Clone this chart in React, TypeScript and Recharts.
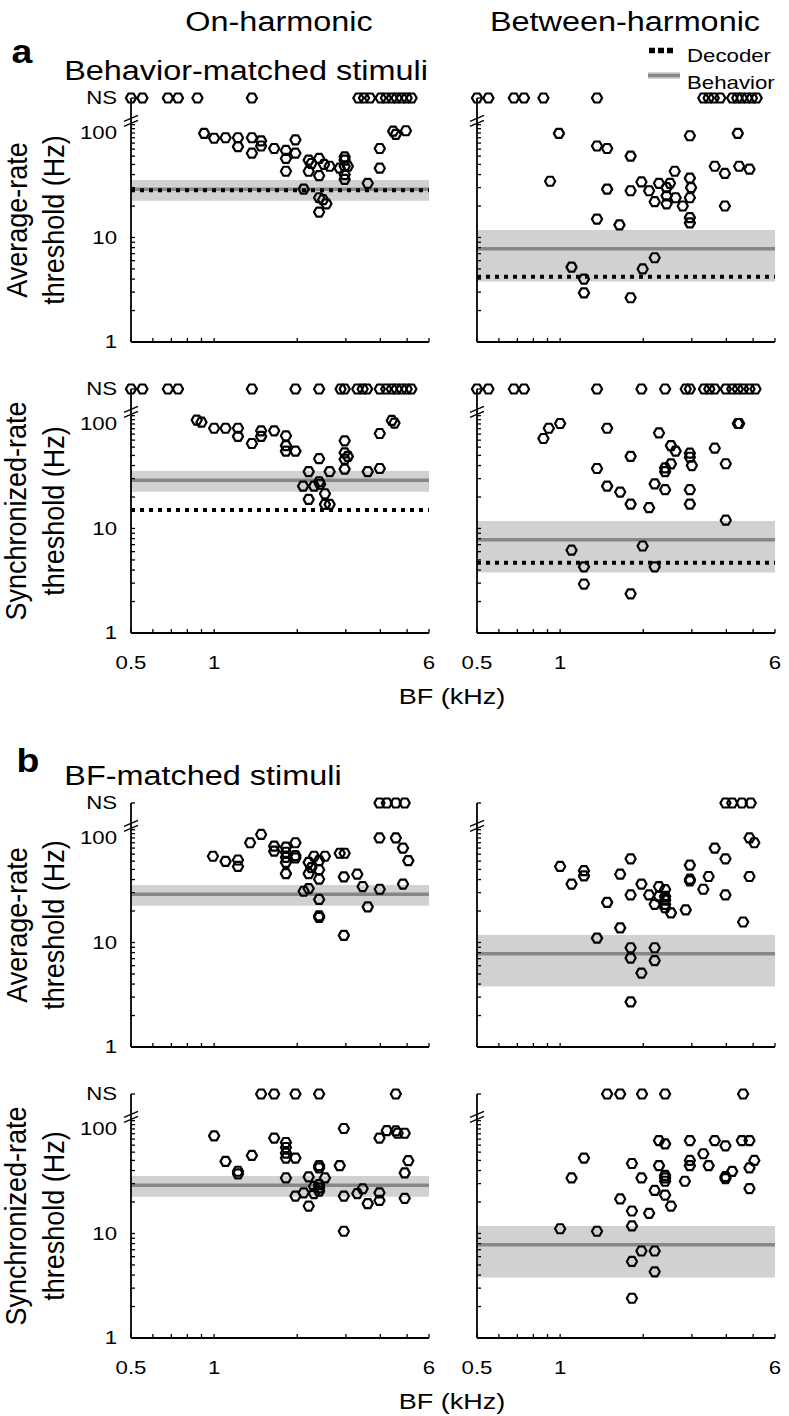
import React from 'react';
import { ScatterChart, Scatter, XAxis, YAxis, ReferenceArea, ReferenceLine } from 'recharts';

// threshold value used for the "NS" (not significant) row at the top of each panel
const NS_LEVEL = 216;
const AXIS_BREAK = 132;

const X_TICKS = [0.5, 0.6, 0.7, 0.8, 0.9, 1, 2, 3, 4, 5, 6];
const X_LABELS = [0.5, 1, 6];
const Y_TICKS = [1, 2, 3, 4, 5, 6, 7, 8, 9, 10, 20, 30, 40, 50, 60, 70, 80, 90, 100, 110, 120, AXIS_BREAK, NS_LEVEL];
const Y_LABELS: Record<number, string> = { 1: '1', 10: '10', 100: '100', [NS_LEVEL]: 'NS' };

// behavioural thresholds (band + line) and decoder thresholds
const BEHAVIOR_ON = 29;
const BEHAVIOR_ON_BAND = [22.5, 35.5];
const BEHAVIOR_BETWEEN = 7.8;
const BEHAVIOR_BETWEEN_BAND = [3.8, 11.8];
const DECODER_AVG_ON = 28.3;
const DECODER_SYNC_ON = 15;
const DECODER_AVG_BETWEEN = 4.2;
const DECODER_SYNC_BETWEEN = 4.7;

// [BF kHz, threshold Hz]
const A_AVG_ON: [number, number][] = [
  [0.92, 99], [1.0, 89], [1.1, 90], [1.22, 90], [1.22, 74], [1.37, 90], [1.37, 64], [1.48, 84], [1.48, 75],
  [1.65, 71], [1.82, 68], [1.82, 57], [1.82, 43], [1.97, 86], [1.97, 64], [2.11, 29], [2.2, 55], [2.2, 43],
  [2.25, 51], [2.4, 57], [2.4, 39], [2.5, 50], [2.62, 48], [2.4, 24], [2.48, 23], [2.55, 21], [2.4, 17.5],
  [2.85, 46], [2.97, 59], [2.97, 55], [2.97, 48], [2.97, 40], [2.97, 36], [3.05, 48], [3.6, 33], [3.98, 46],
  [3.98, 71], [4.45, 104], [4.55, 97], [4.95, 105],
];
const A_AVG_ON_NS = [0.5, 0.55, 0.68, 0.74, 0.87, 1.37, 3.33, 3.49, 3.67, 4.01, 4.19, 4.4, 4.58, 4.78, 4.98, 5.19];

const A_AVG_BETWEEN: [number, number][] = [
  [0.99, 99], [0.92, 34.5], [1.36, 75], [1.48, 71], [1.8, 60], [1.36, 15], [1.48, 29], [1.64, 13.2], [1.8, 28],
  [1.97, 34], [2.1, 28], [2.2, 22], [2.28, 33], [2.43, 30], [2.43, 25], [2.43, 21], [2.5, 33], [2.6, 43],
  [2.62, 24], [2.78, 20], [2.95, 94], [2.95, 37], [2.98, 30], [2.95, 24], [2.95, 15.5], [2.95, 13.8], [3.63, 48],
  [3.95, 41], [3.95, 20], [4.4, 99], [4.45, 48], [4.85, 45], [1.1, 5.2], [1.22, 4.0], [1.22, 2.95], [1.8, 2.65],
  [1.99, 5.0], [2.2, 6.4],
];
const A_AVG_BETWEEN_NS = [0.5, 0.55, 0.68, 0.74, 0.87, 1.36, 3.3, 3.45, 3.6, 3.8, 4.2, 4.38, 4.55, 4.75, 4.95, 5.15];

const A_SYNC_ON: [number, number][] = [
  [0.865, 109], [0.9, 104], [1.0, 91], [1.1, 91], [1.22, 91], [1.22, 76], [1.37, 65], [1.48, 86], [1.48, 76],
  [1.65, 86], [1.82, 77], [1.82, 62], [1.82, 55], [1.97, 55], [2.2, 35], [2.2, 19], [2.1, 25.4], [2.3, 25.4],
  [2.4, 46.5], [2.4, 28], [2.42, 26.5], [2.52, 21.5], [2.52, 17], [2.62, 17], [2.62, 35], [2.97, 69], [2.97, 53],
  [2.97, 46], [3.05, 49], [2.97, 37], [3.6, 35], [3.98, 37.5], [3.98, 81], [4.4, 108], [4.5, 102],
];
const A_SYNC_ON_NS = [0.5, 0.55, 0.68, 0.74, 1.37, 1.97, 2.4, 2.87, 2.97, 3.3, 3.45, 3.58, 3.98, 4.2, 4.4, 4.58, 4.78, 4.98, 5.18];

const A_SYNC_BETWEEN: [number, number][] = [
  [0.87, 72.6], [0.91, 91], [1.0, 101], [1.48, 91], [1.36, 37.5], [1.48, 25.4], [1.65, 22.3], [1.8, 49], [1.8, 17.1],
  [2.1, 15.8], [2.2, 26.7], [2.28, 82], [2.4, 35], [2.4, 38], [2.4, 23.5], [2.52, 62], [2.52, 41.5], [2.62, 55],
  [2.95, 52.5], [2.95, 48], [3.0, 40], [2.95, 23.5], [2.95, 17.1], [3.63, 58.6], [3.98, 41.6], [3.98, 12.0],
  [4.4, 101], [4.45, 101], [1.1, 6.2], [1.22, 4.3], [1.22, 2.94], [1.8, 2.37], [1.99, 6.8], [2.2, 4.3],
];
const A_SYNC_BETWEEN_NS = [0.5, 0.55, 0.68, 0.74, 1.36, 1.97, 2.4, 2.85, 2.95, 3.32, 3.47, 3.63, 3.98, 4.2, 4.4, 4.6, 4.85, 5.1];

const B_AVG_ON: [number, number][] = [
  [0.99, 66.8], [1.1, 59.7], [1.22, 61.5], [1.22, 53.4], [1.35, 90], [1.48, 108], [1.65, 83.6], [1.65, 74.7],
  [1.82, 81.7], [1.82, 73], [1.82, 65.3], [1.82, 58.4], [1.82, 45.6], [1.97, 90], [1.97, 67.8], [1.97, 64.4],
  [2.2, 58.4], [2.2, 45.6], [2.25, 52], [2.11, 30.9], [2.2, 32.8], [2.3, 66.8], [2.4, 60.7], [2.4, 49.7],
  [2.4, 40.3], [2.4, 25.8], [2.4, 18.0], [2.4, 17.4], [2.52, 66.8], [2.85, 71.4], [2.97, 71.4], [2.95, 42.4],
  [2.95, 11.7], [3.3, 45], [3.45, 34.3], [3.6, 21.9], [3.98, 32.3], [3.97, 100], [4.55, 100], [4.83, 80],
  [5.05, 60.7], [4.83, 36.2],
];
const B_AVG_ON_NS = [3.97, 4.22, 4.55, 4.9];

const B_AVG_BETWEEN: [number, number][] = [
  [1.0, 53.4], [1.1, 36.2], [1.22, 48.6], [1.22, 43.4], [1.36, 11.0], [1.48, 24.2], [1.65, 45], [1.65, 13.8],
  [1.8, 63.2], [1.8, 28.5], [1.8, 8.9], [1.8, 7.1], [1.8, 2.7], [1.97, 36.2], [1.97, 5.1], [2.1, 28.5],
  [2.2, 23.2], [2.2, 8.9], [2.2, 6.7], [2.28, 34.3], [2.28, 27.6], [2.4, 32.1], [2.4, 27.6], [2.4, 25.4],
  [2.4, 23.2], [2.4, 21.5], [2.52, 19.2], [2.85, 20.5], [2.95, 55], [2.95, 40.3], [2.95, 38.8], [3.3, 32.3],
  [3.45, 42.8], [3.63, 80], [3.97, 63.2], [3.97, 28.5], [4.6, 15.7], [4.85, 100], [5.05, 90], [4.85, 42.8],
];
const B_AVG_BETWEEN_NS = [3.97, 4.2, 4.55, 4.9];

const B_SYNC_ON: [number, number][] = [
  [1.0, 85.8], [1.1, 49], [1.22, 39.4], [1.22, 37.2], [1.37, 55.8], [1.65, 81.8], [1.82, 74.2], [1.82, 66.5],
  [1.82, 58.7], [1.82, 52.7], [1.82, 34], [1.97, 52.7], [1.97, 22.8], [2.11, 24.5], [2.2, 34.8], [2.2, 18.3],
  [2.3, 24.1], [2.3, 28.2], [2.4, 44.6], [2.4, 42.4], [2.4, 29.4], [2.4, 27.3], [2.4, 25.4], [2.52, 34],
  [2.85, 44.6], [2.95, 101], [2.95, 22.8], [2.95, 10.5], [3.3, 24.1], [3.45, 26.8], [3.6, 19.3], [3.97, 24.5],
  [3.97, 20.7], [3.97, 81.8], [4.22, 96.4], [4.55, 95.7], [4.62, 91], [4.9, 91], [5.05, 49.7], [4.9, 38], [4.9, 21.7],
];
const B_SYNC_ON_NS = [1.48, 1.65, 1.97, 2.4, 4.55];

const B_SYNC_BETWEEN: [number, number][] = [
  [1.0, 11.1], [1.1, 34], [1.22, 52.7], [1.36, 10.5], [1.65, 21.4], [1.82, 46.7], [1.82, 16.4], [1.82, 11.8],
  [1.82, 5.4], [1.82, 2.4], [1.97, 34], [1.97, 6.8], [2.1, 15.6], [2.2, 25.8], [2.2, 6.8], [2.2, 4.3],
  [2.28, 77.5], [2.28, 44.6], [2.4, 72], [2.4, 36], [2.4, 34], [2.4, 31.6], [2.4, 23.3], [2.52, 18.3],
  [2.83, 31.6], [2.95, 77.5], [2.95, 50], [2.95, 44.6], [3.3, 57.9], [3.45, 44.6], [3.63, 77.5], [3.97, 69],
  [3.97, 35], [3.97, 33.5], [4.2, 39.3], [4.55, 77.5], [4.85, 77.5], [4.85, 42.4], [5.05, 50], [4.85, 26.9],
];
const B_SYNC_BETWEEN_NS = [1.48, 1.65, 1.98, 2.4, 4.6];

const FONT = '"Liberation Sans", Arial, Helvetica, sans-serif';
const STRETCH = 1.2;
const PLOT_W = 298;
const PLOT_H = 244;
const Y_AXIS_W = 60;
const COL_LEFT = [131, 477];
const ROW_TOP = [98, 389, 803, 1094];

const toPoints = (pairs: [number, number][], ns: number[]) => [
  ...pairs.map(([bf, thr]) => ({ bf, thr })),
  ...ns.map((bf) => ({ bf, thr: NS_LEVEL })),
];

const Hex = (props: any) => {
  const { cx, cy } = props;
  if (cx == null || cy == null) return null;
  const rx = 5.1;
  const ry = 4.5;
  const pts = [[-rx, 0], [-rx / 2, -ry], [rx / 2, -ry], [rx, 0], [rx / 2, ry], [-rx / 2, ry]]
    .map(([dx, dy]) => `${cx + dx},${cy + dy}`)
    .join(' ');
  return <polygon points={pts} fill="none" stroke="#000" strokeWidth={2.2} strokeLinejoin="round" />;
};

const makeYTick = (showLabels: boolean) => (props: any) => {
  const { x, y, payload } = props;
  const v = payload.value;
  if (v === AXIS_BREAK) {
    return (
      <g>
        <line x1={x - 7} y1={y + 1} x2={x + 7} y2={y - 5} stroke="#000" strokeWidth={1.4} />
        <line x1={x - 7} y1={y + 6} x2={x + 7} y2={y} stroke="#000" strokeWidth={1.4} />
      </g>
    );
  }
  const label = showLabels ? Y_LABELS[v] : undefined;
  return (
    <g>
      <line x1={x} y1={y} x2={x + 4} y2={y} stroke="#000" strokeWidth={1.3} />
      {label && (
        <text
          transform={`translate(${x - 14},${y}) scale(${STRETCH},1)`}
          textAnchor="end"
          dominantBaseline="central"
          fontSize={18.5}
          fontFamily={FONT}
          fill="#000"
        >
          {label}
        </text>
      )}
    </g>
  );
};

const makeXTick = (showLabels: boolean) => (props: any) => {
  const { x, y, payload } = props;
  const v = payload.value;
  const label = showLabels && X_LABELS.includes(v) ? String(v) : null;
  return (
    <g>
      <line x1={x} y1={y} x2={x} y2={y - 4} stroke="#000" strokeWidth={1.3} />
      {label && (
        <text
          transform={`translate(${x},${y + 30}) scale(${STRETCH},1)`}
          textAnchor="middle"
          dominantBaseline="central"
          fontSize={18.5}
          fontFamily={FONT}
          fill="#000"
        >
          {label}
        </text>
      )}
    </g>
  );
};

type PanelProps = {
  col: number;
  row: number;
  data: { bf: number; thr: number }[];
  behavior: number;
  band: number[];
  decoder?: number;
};

const Panel: React.FC<PanelProps> = ({ col, row, data, behavior, band, decoder }) => {
  const showY = col === 0;
  const showX = row === 1 || row === 3;
  return (
    <div style={{ position: 'absolute', left: COL_LEFT[col] - Y_AXIS_W, top: ROW_TOP[row] - 10 }}>
      <ScatterChart
        width={Y_AXIS_W + PLOT_W + 10}
        height={10 + PLOT_H + 40}
        margin={{ top: 10, right: 10, bottom: 0, left: 0 }}
      >
        <XAxis
          type="number"
          dataKey="bf"
          scale="log"
          domain={[0.5, 6]}
          ticks={X_TICKS}
          interval={0}
          tick={makeXTick(showX)}
          tickLine={false}
          tickSize={0}
          tickMargin={0}
          height={40}
          axisLine={{ stroke: '#000', strokeWidth: 1.8 }}
        />
        <YAxis
          type="number"
          dataKey="thr"
          scale="log"
          domain={[1, NS_LEVEL]}
          ticks={Y_TICKS}
          interval={0}
          tick={makeYTick(showY)}
          tickLine={false}
          tickSize={0}
          tickMargin={0}
          width={Y_AXIS_W}
          axisLine={{ stroke: '#000', strokeWidth: 1.8 }}
        />
        <ReferenceArea y1={band[0]} y2={band[1]} fill="#d1d1d1" fillOpacity={1} stroke="none" />
        <ReferenceLine y={behavior} stroke="#878787" strokeWidth={3.5} />
        {decoder !== undefined && (
          <ReferenceLine y={decoder} stroke="#000" strokeWidth={4} strokeDasharray="4 5" />
        )}
        <Scatter data={data} shape={Hex} isAnimationActive={false} />
      </ScatterChart>
    </div>
  );
};

type TextProps = {
  x: number;
  y: number;
  size: number;
  bold?: boolean;
  rotate?: boolean;
  anchor?: 'middle' | 'start';
  stretch?: number;
  children: React.ReactNode;
};

const Txt: React.FC<TextProps> = ({ x, y, size, bold, rotate, anchor = 'middle', stretch = STRETCH, children }) => (
  <div
    style={{
      position: 'absolute',
      left: x,
      top: y,
      fontSize: size,
      lineHeight: 1,
      fontWeight: bold ? 700 : 400,
      whiteSpace: 'nowrap',
      transformOrigin: anchor === 'middle' ? 'center' : 'left center',
      transform:
        (anchor === 'middle' ? 'translate(-50%,-50%)' : 'translate(0,-50%)') +
        ` scaleX(${stretch})` +
        (rotate ? ' rotate(-90deg)' : ''),
    }}
  >
    {children}
  </div>
);

export default function App() {
  const rowMid = (r: number) => ROW_TOP[r] + PLOT_H / 2;
  return (
    <div
      style={{
        position: 'absolute',
        left: 0,
        top: 0,
        width: 789,
        height: 1416,
        background: '#fff',
        color: '#000',
        fontFamily: FONT,
        overflow: 'hidden',
      }}
    >
      <Txt x={279} y={22} size={27}>On-harmonic</Txt>
      <Txt x={625} y={22} size={27}>Between-harmonic</Txt>
      <Txt x={22} y={51} size={34} bold stretch={1.1}>a</Txt>
      <Txt x={246} y={71} size={27}>Behavior-matched stimuli</Txt>
      <Txt x={28} y={760} size={34} bold stretch={1.1}>b</Txt>
      <Txt x={203} y={776} size={27}>BF-matched stimuli</Txt>

      {/* legend */}
      <svg style={{ position: 'absolute', left: 640, top: 40 }} width={50} height={50}>
        <line x1={9} y1={10.5} x2={34} y2={10.5} stroke="#000" strokeWidth={5.5} strokeDasharray="6 3" />
        <rect x={8} y={32} width={32} height={7} fill="#d1d1d1" />
        <line x1={8} y1={35.5} x2={40} y2={35.5} stroke="#878787" strokeWidth={3.5} />
      </svg>
      <Txt x={687} y={55} size={19} anchor="start" stretch={1.17}>Decoder</Txt>
      <Txt x={687} y={82} size={19} anchor="start" stretch={1.17}>Behavior</Txt>

      {/* y labels */}
      <Txt x={18} y={rowMid(0)} size={27} rotate stretch={1.08}>Average-rate</Txt>
      <Txt x={55} y={rowMid(0)} size={27} rotate stretch={1.08}>threshold (Hz)</Txt>
      <Txt x={17} y={rowMid(1)} size={27} rotate stretch={1.08}>Synchronized-rate</Txt>
      <Txt x={55} y={rowMid(1)} size={27} rotate stretch={1.08}>threshold (Hz)</Txt>
      <Txt x={18} y={rowMid(2)} size={27} rotate stretch={1.08}>Average-rate</Txt>
      <Txt x={55} y={rowMid(2)} size={27} rotate stretch={1.08}>threshold (Hz)</Txt>
      <Txt x={17} y={rowMid(3)} size={27} rotate stretch={1.08}>Synchronized-rate</Txt>
      <Txt x={55} y={rowMid(3)} size={27} rotate stretch={1.08}>threshold (Hz)</Txt>

      {/* x labels */}
      <Txt x={452} y={697} size={22.5}>BF (kHz)</Txt>
      <Txt x={452} y={1402} size={22.5}>BF (kHz)</Txt>

      <Panel col={0} row={0} data={toPoints(A_AVG_ON, A_AVG_ON_NS)} behavior={BEHAVIOR_ON} band={BEHAVIOR_ON_BAND} decoder={DECODER_AVG_ON} />
      <Panel col={1} row={0} data={toPoints(A_AVG_BETWEEN, A_AVG_BETWEEN_NS)} behavior={BEHAVIOR_BETWEEN} band={BEHAVIOR_BETWEEN_BAND} decoder={DECODER_AVG_BETWEEN} />
      <Panel col={0} row={1} data={toPoints(A_SYNC_ON, A_SYNC_ON_NS)} behavior={BEHAVIOR_ON} band={BEHAVIOR_ON_BAND} decoder={DECODER_SYNC_ON} />
      <Panel col={1} row={1} data={toPoints(A_SYNC_BETWEEN, A_SYNC_BETWEEN_NS)} behavior={BEHAVIOR_BETWEEN} band={BEHAVIOR_BETWEEN_BAND} decoder={DECODER_SYNC_BETWEEN} />
      <Panel col={0} row={2} data={toPoints(B_AVG_ON, B_AVG_ON_NS)} behavior={BEHAVIOR_ON} band={BEHAVIOR_ON_BAND} />
      <Panel col={1} row={2} data={toPoints(B_AVG_BETWEEN, B_AVG_BETWEEN_NS)} behavior={BEHAVIOR_BETWEEN} band={BEHAVIOR_BETWEEN_BAND} />
      <Panel col={0} row={3} data={toPoints(B_SYNC_ON, B_SYNC_ON_NS)} behavior={BEHAVIOR_ON} band={BEHAVIOR_ON_BAND} />
      <Panel col={1} row={3} data={toPoints(B_SYNC_BETWEEN, B_SYNC_BETWEEN_NS)} behavior={BEHAVIOR_BETWEEN} band={BEHAVIOR_BETWEEN_BAND} />
    </div>
  );
}
